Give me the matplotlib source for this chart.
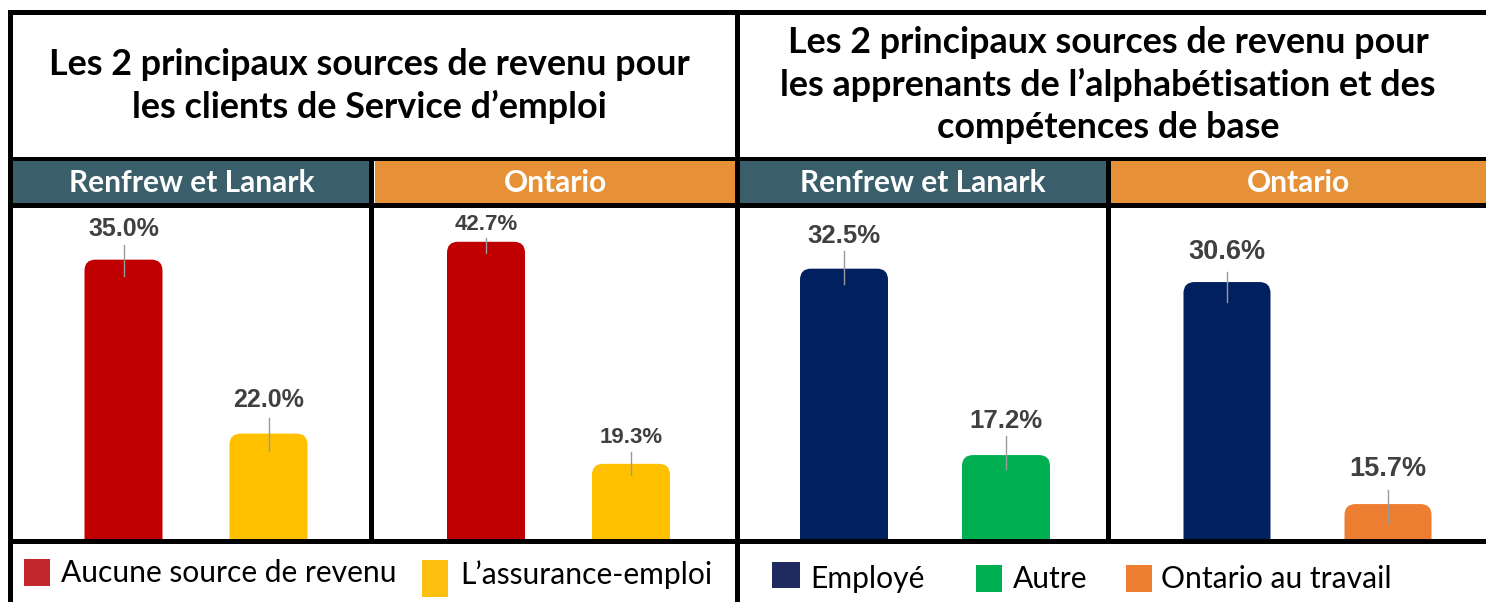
import matplotlib
matplotlib.use("Agg")
import matplotlib.pyplot as plt
from matplotlib.patches import Rectangle, FancyBboxPatch

# ---------------- data ----------------
title_es = "Les 2 principaux sources de revenu pour\nles clients de Service d’emploi"
title_lbs = ("Les 2 principaux sources de revenu pour\n"
             "les apprenants de l’alphabétisation et des\ncompétences de base")
region_labels = ["Renfrew et Lanark", "Ontario"]

es_categories = ["Aucune source de revenu", "L’assurance-emploi"]
es_renfrew = [35.0, 22.0]
es_ontario = [42.7, 19.3]

lbs_renfrew_categories = ["Employé", "Autre"]
lbs_renfrew = [32.5, 17.2]
lbs_ontario_categories = ["Employé", "Ontario au travail"]
lbs_ontario = [30.6, 15.7]
lbs_legend = ["Employé", "Autre", "Ontario au travail"]

# ---------------- style ----------------
bar_colors = {"Aucune source de revenu": "#C00000", "L’assurance-emploi": "#FFC000",
              "Employé": "#002060", "Autre": "#00B050", "Ontario au travail": "#ED7D31"}
legend_colors = {"Aucune source de revenu": "#C1272D", "L’assurance-emploi": "#FDC010",
                 "Employé": "#1F2A5E", "Autre": "#00B050", "Ontario au travail": "#ED7D31"}
TEAL = "#3A5F6B"
ORANGE_H = "#E69138"
LABEL_COL = "#404040"

W, H = 1486, 602
fig = plt.figure(figsize=(W / 100, H / 100), dpi=100)
fig.patch.set_facecolor("white")


def fx(x):
    return x / W


def fy(y):
    return 1 - y / H


def rect(x0, y0, x1, y1, color, z=5):
    fig.add_artist(Rectangle((fx(x0), fy(y1)), (x1 - x0) / W, (y1 - y0) / H,
                             transform=fig.transFigure, facecolor=color,
                             edgecolor="none", lw=0, zorder=z))


# ---------------- panels ----------------
# (values, categories, axes px box [x0,x1,y0,y1], bar centers px, bar width px,
#  ylim, label font size, label offset, line top, line bottom)
panels = [
    (es_renfrew, es_categories, (13, 369, 208, 544), (123.5, 268.5), 78, (13.75, 38.86), 18, (31, 34), (15, 16), (16, 17)),
    (es_ontario, es_categories, (374, 735, 208, 544), (486, 631), 78, (10.85, 46.26), 16, (17, 26), (4, 12), (11, 11)),
    (lbs_renfrew, lbs_renfrew_categories, (740, 1106, 208, 544), (844, 1006), 88, (9.90, 37.48), 18.5, (33, 34), (18, 19), (15, 14)),
    (lbs_ontario, lbs_ontario_categories, (1111, 1486, 208, 544), (1227, 1388), 87, (13.02, 35.57), 19.5, (30, 35), (10, 14), (20, 19)),
]

for vals, cats, box, centers, wpx, ylim, fs, loff, ltop, lbot in panels:
    x0, x1, y0, y1 = box
    ax = fig.add_axes([fx(x0), fy(y1), (x1 - x0) / W, (y1 - y0) / H])
    ax.set_axis_off()
    s = centers[1] - centers[0]
    xlim = (-(centers[0] - x0) / s, (x1 - centers[0]) / s)
    ax.set_xlim(*xlim)
    ax.set_ylim(*ylim)
    dxpp = (xlim[1] - xlim[0]) / (x1 - x0)
    dypp = (ylim[1] - ylim[0]) / (y1 - y0)
    bars = ax.bar(range(len(vals)), vals, width=wpx * dxpp,
                  color=[bar_colors[c] for c in cats])
    for i, (b, v) in enumerate(zip(bars, vals)):
        b.set_visible(False)
        r = 11 * dxpp
        fb = FancyBboxPatch((b.get_x(), b.get_y()), b.get_width(), b.get_height(),
                            boxstyle=f"round,pad=0,rounding_size={r}",
                            mutation_aspect=dypp / dxpp,
                            facecolor=b.get_facecolor(), edgecolor="none")
        ax.add_patch(fb)
        xc = b.get_x() + b.get_width() / 2
        ax.plot([xc, xc], [v + ltop[i] * dypp, v - lbot[i] * dypp],
                color="#9a9a9a", lw=1, zorder=4)
        ax.text(xc, v + loff[i] * dypp, f"{v:.1f}%", ha="center", va="center",
                fontsize=fs, fontweight="bold", color=LABEL_COL,
                family="Liberation Sans", zorder=5)

# ---------------- headers ----------------
rect(13, 161, 369, 203, TEAL, 2)
rect(375, 161, 735, 203, ORANGE_H, 2)
rect(740, 161, 1106, 203, TEAL, 2)
rect(1111, 161, 1486, 203, ORANGE_H, 2)
for xc, lab in [(192, region_labels[0]), (555, region_labels[1]),
                (923, region_labels[0]), (1298, region_labels[1])]:
    fig.text(fx(xc), fy(192), lab, ha="center", va="baseline", color="white",
             fontsize=21.5, fontweight="bold", family="Lato", zorder=6)

# ---------------- titles ----------------
fig.text(fx(369), fy(118), title_es, ha="center", va="baseline", fontsize=25.8,
         fontweight="bold", family="Lato", linespacing=1.33, multialignment="center")
fig.text(fx(1108), fy(138), title_lbs, ha="center", va="baseline", fontsize=25.8,
         fontweight="bold", family="Lato", linespacing=1.33, multialignment="center")

# ---------------- frame lines ----------------
K = "black"
rect(8, 10, W, 15, K)          # top
rect(8, 10, 13, H, K)          # left
rect(735, 10, 740, H, K)       # center
rect(8, 157, W, 161, K)        # header top
rect(8, 203, W, 208, K)        # header bottom
rect(369, 157, 374, 544, K)    # left divider
rect(1106, 157, 1111, 544, K)  # right divider
rect(8, 539, W, 544, K)        # chart bottom

# ---------------- legends ----------------
legend_items = [
    (es_categories[0], (24, 559, 50, 586), 61, 582),
    (es_categories[1], (422, 560, 448, 597), 460, 584),
    (lbs_legend[0], (772, 562, 800, 588), 810, 588),
    (lbs_legend[1], (976, 565, 1002, 592), 1013, 588),
    (lbs_legend[2], (1126, 565, 1152, 592), 1161, 588),
]
for lab, (a, b, c, d), tx, ty in legend_items:
    rect(a, b, c, d, legend_colors[lab], 3)
    fig.text(fx(tx), fy(ty), lab, ha="left", va="baseline", fontsize=21.6,
             family="Lato", color="black")

fig.savefig("out.png", dpi=100, facecolor="white")
